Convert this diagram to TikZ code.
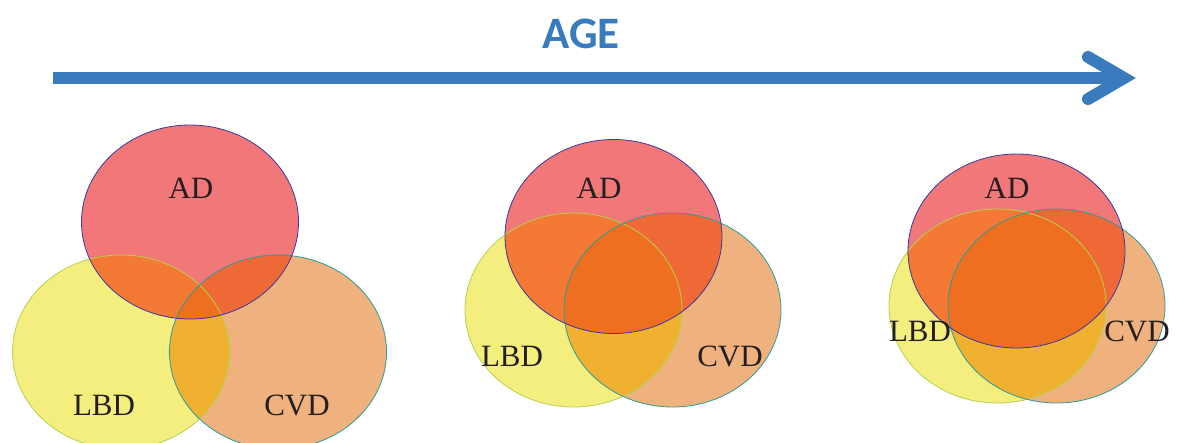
\documentclass[tikz,border=0pt]{standalone}
\usepackage{fontspec}
\setmainfont{Liberation Serif}
\newfontfamily\agefont{Carlito}
\definecolor{adfill}{HTML}{F27779}
\definecolor{lbdfill}{HTML}{F3EE7E}
\definecolor{cvdfill}{HTML}{EFB17D}
\definecolor{adlbd}{HTML}{F37935}
\definecolor{adcvd}{HTML}{EF6936}
\definecolor{lbdcvd}{HTML}{F0B131}
\definecolor{allthree}{HTML}{EE6F20}
\definecolor{adline}{HTML}{3A3A9E}
\definecolor{lbdline}{HTML}{B8D050}
\definecolor{cvdline}{HTML}{2A9D9A}
\definecolor{agecol}{HTML}{3A7BBE}
\definecolor{txtcol}{HTML}{231F20}
\newcommand\myell[1]{(#1) ellipse [x radius=108.5pt, y radius=97pt]}
\newcommand\vennset[4]{%
  % #1 prefix, #2 AD centre, #3 LBD centre, #4 CVD centre
  \coordinate (#1ad) at (#2);
  \coordinate (#1lbd) at (#3);
  \coordinate (#1cvd) at (#4);
  \fill[lbdfill] \myell{#1lbd};
  \fill[cvdfill] \myell{#1cvd};
  \fill[adfill] \myell{#1ad};
  \begin{scope}\clip \myell{#1lbd}; \fill[lbdcvd] \myell{#1cvd};\end{scope}
  \begin{scope}\clip \myell{#1ad}; \fill[adlbd] \myell{#1lbd};\end{scope}
  \begin{scope}\clip \myell{#1ad}; \fill[adcvd] \myell{#1cvd};\end{scope}
  \begin{scope}\clip \myell{#1ad}; \clip \myell{#1lbd}; \fill[allthree] \myell{#1cvd};\end{scope}
  \draw[lbdline, line width=0.8pt] \myell{#1lbd};
  \draw[cvdline, line width=0.8pt] \myell{#1cvd};
  \draw[adline, line width=0.8pt] \myell{#1ad};
}
\begin{document}
\begin{tikzpicture}[x=1pt,y=-1pt,
  lbl/.style={font=\fontsize{31}{31}\selectfont, text=txtcol, inner sep=0pt},
  agearrow/.style={agecol, line width=12pt}]
\useasboundingbox (0,0) rectangle (1178,442);
% arrow
\node[font=\agefont\bfseries\fontsize{45}{45}\selectfont, text=agecol, inner sep=0pt] (age) at (581,34) {AGE};
\coordinate (as) at (53,78);
\coordinate (ae) at (1124,78);
\coordinate (c1) at (1088,57);
\coordinate (c2) at (1088,99);
\draw[agearrow] (as) -- (ae);
\draw[agearrow, line cap=round, line join=miter] (c1) -- (ae) -- (c2);
% sets
\vennset{a}{190,222}{121,352}{278,352}
\vennset{b}{613.5,236.5}{573.5,310}{672.5,310}
\vennset{c}{1016.5,251}{997.5,306}{1056.5,306}
% labels
\node[lbl] (la1) at (191,188) {AD};
\node[lbl] (ll1) at (104,405) {LBD};
\node[lbl] (lc1) at (297,405) {CVD};
\node[lbl] (la2) at (599,188) {AD};
\node[lbl] (ll2) at (512,356) {LBD};
\node[lbl] (lc2) at (730,356) {CVD};
\node[lbl] (la3) at (1007,188) {AD};
\node[lbl] (ll3) at (920,331) {LBD};
\node[lbl] (lc3) at (1137,331) {CVD};
\end{tikzpicture}
\end{document}
